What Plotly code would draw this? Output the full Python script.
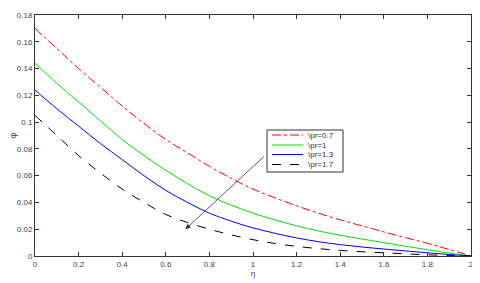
import plotly.graph_objects as go

eta = [0.0, 0.1, 0.2, 0.3, 0.4, 0.5, 0.6, 0.7, 0.8, 0.9, 1.0,
       1.1, 1.2, 1.3, 1.4, 1.5, 1.6, 1.7, 1.8, 1.9, 2.0]

phi_pr07 = [0.170, 0.155, 0.140, 0.126, 0.112, 0.099, 0.087, 0.077, 0.067, 0.058, 0.050,
            0.0435, 0.0375, 0.032, 0.027, 0.0225, 0.018, 0.0137, 0.0095, 0.0048, 0.0]
phi_pr1 = [0.144, 0.129, 0.115, 0.101, 0.087, 0.075, 0.064, 0.054, 0.045, 0.038, 0.032,
           0.027, 0.0225, 0.0187, 0.0155, 0.0127, 0.0100, 0.0073, 0.0047, 0.0022, 0.0]
phi_pr13 = [0.124, 0.110, 0.097, 0.084, 0.072, 0.060, 0.049, 0.040, 0.032, 0.026, 0.021,
            0.017, 0.0135, 0.0107, 0.0085, 0.0067, 0.0052, 0.0038, 0.0024, 0.0011, 0.0]
phi_pr17 = [0.105, 0.090, 0.075, 0.062, 0.050, 0.040, 0.031, 0.025, 0.020, 0.0158, 0.0122,
            0.0094, 0.0072, 0.0055, 0.0042, 0.0032, 0.0024, 0.0016, 0.0009, 0.0004, 0.0]

names = ["\\pr=0.7", "\\pr=1", "\\pr=1.3", "\\pr=1.7"]
series = [phi_pr07, phi_pr1, phi_pr13, phi_pr17]
colors = ["#ff0000", "#00dd00", "#0000ff", "#000000"]
dashes = ["dashdot", "solid", "solid", "dash"]

x_ticks = [0, 0.2, 0.4, 0.6, 0.8, 1, 1.2, 1.4, 1.6, 1.8, 2]
x_tick_text = ["0", "0.2", "0.4", "0.6", "0.8", "1", "1.2", "1.4", "1.6", "1.8", "2"]
y_ticks = [0, 0.02, 0.04, 0.06, 0.08, 0.1, 0.12, 0.14, 0.16, 0.18]
y_tick_text = ["0", "0.02", "0.04", "0.06", "0.08", "0.1", "0.12", "0.14", "0.16", "0.18"]

# page body has an 8px margin; compensate so the plot area lands at the same window pixels
OFF = 8
W, H = 480 - OFF, 283 - OFF
ML, MR, MT, MB = 35 - OFF, 9, 15 - OFF, 27
PW, PH = W - ML - MR, H - MT - MB


def px_x(px):
    return (px - OFF - ML) / PW


def px_y(py):
    return (H - MB - (py - OFF)) / PH


FONT = "Liberation Sans, Arial, Helvetica"

fig = go.Figure()
for nm, ys, c, d in zip(names, series, colors, dashes):
    fig.add_trace(go.Scatter(x=eta, y=ys, mode="lines", name=nm, showlegend=False,
                             line=dict(color=c, width=1, dash=d, shape="spline")))

fig.add_annotation(x=0.69, y=0.020, ax=1.057, ay=0.0754,
                   xref="x", yref="y", axref="x", ayref="y",
                   showarrow=True, arrowhead=2, arrowsize=1.3, arrowwidth=0.8,
                   arrowcolor="#333333", text="")

# custom legend box
shapes = [dict(type="rect", xref="paper", yref="paper",
               x0=px_x(267), x1=px_x(343), y0=px_y(172), y1=px_y(130),
               fillcolor="white", line=dict(color="#333333", width=1), layer="above")]
row_y = [135, 145, 154.5, 164.5]
for nm, c, d, ry in zip(names, colors, dashes, row_y):
    shapes.append(dict(type="line", xref="paper", yref="paper",
                       x0=px_x(272), x1=px_x(303), y0=px_y(ry), y1=px_y(ry),
                       line=dict(color=c, width=1, dash=d), layer="above"))
    fig.add_annotation(xref="paper", yref="paper", x=px_x(306), y=px_y(ry),
                       xanchor="left", yanchor="middle", showarrow=False, text=nm,
                       font=dict(family=FONT, size=8, color="#333333"))

axis_common = dict(showline=True, linecolor="#333333", linewidth=1, mirror="ticks",
                   ticks="inside", ticklen=4, tickcolor="#333333", showgrid=False,
                   zeroline=False, automargin=False,
                   tickfont=dict(family=FONT, size=8, color="#444444"))

fig.update_layout(
    width=W, height=H,
    margin=dict(l=ML, r=MR, t=MT, b=MB, autoexpand=False),
    paper_bgcolor="white", plot_bgcolor="white",
    xaxis=dict(range=[0, 2], tickvals=x_ticks, ticktext=x_tick_text,
               title=dict(text="η", font=dict(family=FONT, size=8, color="#444444"), standoff=0),
               **axis_common),
    yaxis=dict(range=[0, 0.18], tickvals=y_ticks, ticktext=y_tick_text,
               title=dict(text="φ", font=dict(family=FONT, size=9, color="#444444"), standoff=0),
               **axis_common),
    shapes=shapes,
    showlegend=False,
)

fig.write_html("out.html")
